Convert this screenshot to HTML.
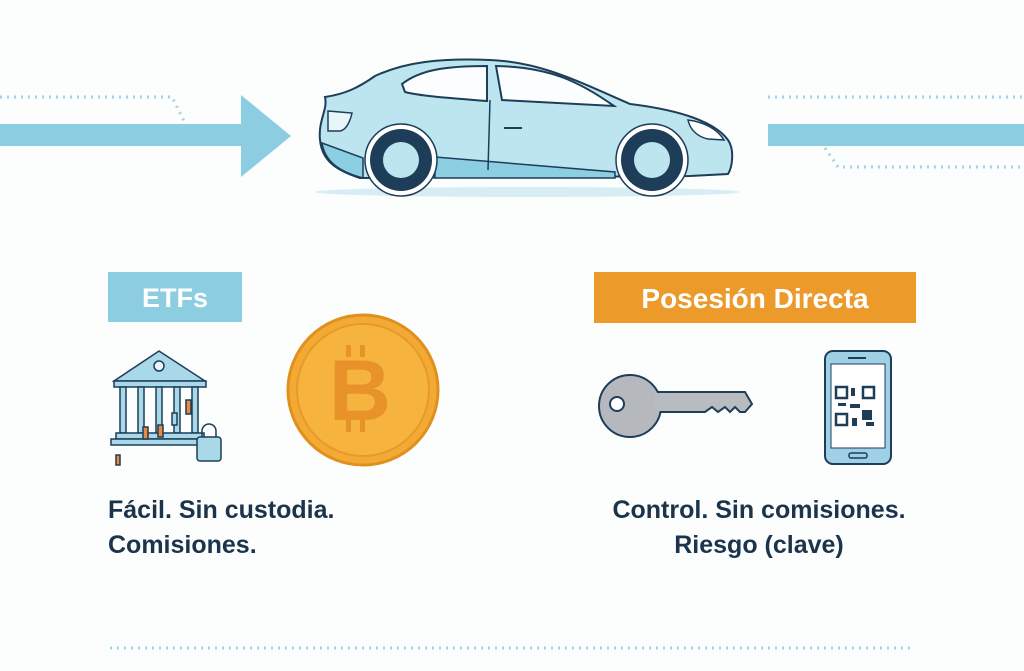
<!DOCTYPE html>
<html><head><meta charset="utf-8"><style>
body{margin:0;width:1024px;height:666px;background:#fcfdfd;overflow:hidden;font-family:"Liberation Sans",sans-serif}
</style></head><body>
<svg width="1024" height="666" viewBox="0 0 1024 666" xmlns="http://www.w3.org/2000/svg">
<g fill="none" stroke="#9fd3e3" stroke-width="3" stroke-dasharray="2 5">
<path d="M0 97 H172 L185 123"/>
<path d="M768 97 H1024"/>
<path d="M825 148 L838 167 H1024"/>
<path d="M110 648 H915"/>
</g>
<rect x="0" y="124" width="243" height="22" fill="#8ccde2"/>
<polygon points="241,95 291,136 241,177" fill="#8ccde2"/>
<rect x="768" y="124" width="256" height="22" fill="#8ccde2"/>
<!-- car -->
<ellipse cx="527" cy="192" rx="212" ry="5" fill="#d6edf4"/>
<path d="M325 97 C345 94 358 88 375 76 C405 62 440 58 490 60 C540 62 575 80 630 104 C680 110 715 122 728 140 C735 150 732 168 728 174 L690 176 L360 178 C335 170 322 160 320 140 C318 120 328 110 325 97 Z" fill="#bde5f0" stroke="#1d3d58" stroke-width="2"/>
<path d="M322 143 L363 158 L363 178 C340 172 325 162 322 143 Z" fill="#8ccfe3" stroke="#1d3d58" stroke-width="1.5"/>
<path d="M435 157 L615 172 L615 178 L435 178 Z" fill="#8ccfe3" stroke="#1d3d58" stroke-width="1.5"/>
<path d="M402 84 C420 70 445 66 487 66 L487 101 C450 98 420 96 405 92 Z" fill="#fbfdfe" stroke="#1d3d58" stroke-width="2"/>
<path d="M496 66 C550 67 580 82 614 106 L502 100 Z" fill="#fbfdfe" stroke="#1d3d58" stroke-width="2"/>
<path d="M490 100 L488 170" stroke="#1d3d58" stroke-width="1.5" fill="none"/>
<path d="M504 128 H522" stroke="#1d3d58" stroke-width="2"/>
<path d="M328 111 L352 113 C350 122 346 130 340 131 L328 131 Z" fill="#e8f5fa" stroke="#1d3d58" stroke-width="1.5"/>
<path d="M688 120 C705 122 718 130 724 140 L708 139 C698 137 690 130 688 120 Z" fill="#fff" stroke="#1d3d58" stroke-width="1.5"/>
<circle cx="401" cy="160" r="36" fill="#fff" stroke="#1d3d58" stroke-width="1.5"/>
<circle cx="401" cy="160" r="31" fill="#1d3d58"/>
<circle cx="401" cy="160" r="18" fill="#bde5f0"/>
<circle cx="652" cy="160" r="36" fill="#fff" stroke="#1d3d58" stroke-width="1.5"/>
<circle cx="652" cy="160" r="31" fill="#1d3d58"/>
<circle cx="652" cy="160" r="18" fill="#bde5f0"/>
<!-- labels -->
<rect x="108" y="272" width="134" height="50" fill="#8ccde2"/>
<text x="175" y="307" text-anchor="middle" font-size="27" font-weight="bold" fill="#fff">ETFs</text>
<rect x="594" y="272" width="322" height="51" fill="#ec9a2a"/>
<text x="755" y="308" text-anchor="middle" font-size="28" font-weight="bold" fill="#fff">Posesión Directa</text>
<!-- bank -->
<g stroke="#1d3d58" stroke-width="1.5">
<polygon points="114,381 159,351 205,381" fill="#a9d8e8"/>
<circle cx="159" cy="366" r="5" fill="#eaf6fa"/>
<rect x="114" y="381" width="92" height="6" fill="#a9d8e8"/>
<rect x="120" y="387" width="6" height="46" fill="#a9d8e8"/>
<rect x="138" y="387" width="6" height="46" fill="#a9d8e8"/>
<rect x="156" y="387" width="6" height="46" fill="#a9d8e8"/>
<rect x="174" y="387" width="6" height="46" fill="#a9d8e8"/>
<rect x="192" y="387" width="6" height="46" fill="#a9d8e8"/>
<rect x="116" y="433" width="88" height="6" fill="#a9d8e8"/>
<rect x="111" y="439" width="96" height="6" fill="#a9d8e8"/>
<rect x="143" y="427" width="5" height="12" fill="#ec8a3a"/>
<rect x="158" y="425" width="5" height="12" fill="#ec8a3a"/>
<rect x="186" y="400" width="5" height="14" fill="#ec8a3a"/>
<rect x="172" y="413" width="5" height="12" fill="#a9d8e8"/>
<rect x="116" y="455" width="4" height="10" fill="#ec8a3a"/>
<rect x="197" y="437" width="24" height="24" rx="3" fill="#a9d8e8"/>
<path d="M202 437 V431 a7 7 0 0 1 14 0 V437" fill="none"/>
</g>
<!-- coin -->
<circle cx="363" cy="390" r="75" fill="#f3aa34" stroke="#e0901d" stroke-width="3"/>
<circle cx="363" cy="390" r="66" fill="#f6b43e" stroke="#e69a2a" stroke-width="2"/>
<text x="360" y="420" text-anchor="middle" font-size="86" font-weight="bold" fill="#e8922a">B</text>
<rect x="346" y="345" width="5" height="12" fill="#e8922a"/><rect x="360" y="345" width="5" height="12" fill="#e8922a"/>
<rect x="346" y="420" width="5" height="12" fill="#e8922a"/><rect x="360" y="420" width="5" height="12" fill="#e8922a"/>
<!-- key -->
<g stroke="#1d3d58" stroke-width="2">
<path d="M650 392 H745 L752 404 L745 412 L740 412 L735 407 L730 412 L725 407 L718 412 L712 407 L705 412 H650 Z" fill="#b8bcc0"/>
<circle cx="630" cy="406" r="31" fill="#b5b9bd"/>
<circle cx="617" cy="404" r="7" fill="#fff"/>
</g>
<rect x="655" y="393" width="12" height="18" fill="#b8bcc0"/>
<!-- phone -->
<rect x="825" y="351" width="66" height="113" rx="8" fill="#9fd0e6" stroke="#1d3d58" stroke-width="2"/>
<rect x="831" y="364" width="54" height="84" fill="#fff" stroke="#1d3d58" stroke-width="1"/>
<rect x="848" y="357" width="18" height="2" fill="#1d3d58"/>
<rect x="849" y="453" width="18" height="5" rx="2" fill="none" stroke="#1d3d58" stroke-width="1.5"/>
<g fill="none" stroke="#1d3d58" stroke-width="2.5">
<rect x="836" y="387" width="11" height="11"/><rect x="863" y="387" width="11" height="11"/><rect x="836" y="414" width="11" height="11"/>
</g>
<g fill="#1d3d58"><rect x="851" y="388" width="4" height="8"/><rect x="850" y="404" width="10" height="4"/><rect x="862" y="410" width="10" height="10"/><rect x="852" y="418" width="5" height="8"/><rect x="866" y="422" width="8" height="4"/><rect x="838" y="403" width="8" height="3"/></g>
<!-- texts -->
<g font-size="25" fill="#1b344c" font-weight="bold">
<text x="108" y="518">Fácil. Sin custodia.</text>
<text x="108" y="553">Comisiones.</text>
<text x="759" y="518" text-anchor="middle">Control. Sin comisiones.</text>
<text x="759" y="553" text-anchor="middle">Riesgo (clave)</text>
</g>
</svg>
</body></html>
